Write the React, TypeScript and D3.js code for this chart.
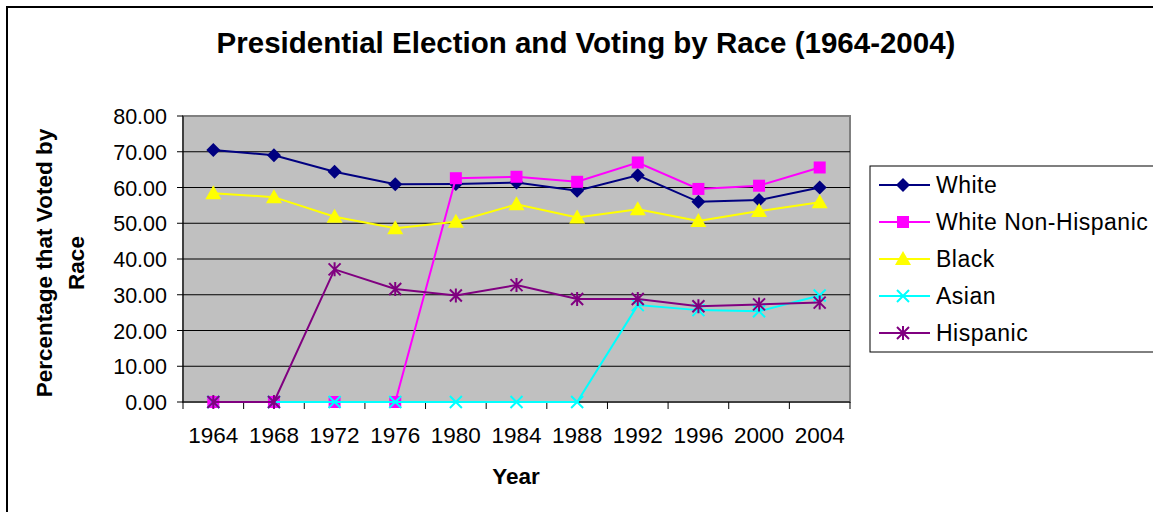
import React from "react";
import * as d3 from "d3";

const years = ["1964", "1968", "1972", "1976", "1980", "1984", "1988", "1992", "1996", "2000", "2004"];
const white = [70.5, 69.0, 64.4, 60.9, 61.0, 61.4, 59.1, 63.4, 56.0, 56.5, 60.0];
const whiteNonHispanic = [0, 0, 0, 0, 62.6, 63.0, 61.6, 67.0, 59.6, 60.5, 65.6];
const black = [58.4, 57.3, 51.8, 48.6, 50.4, 55.3, 51.6, 53.9, 50.6, 53.4, 55.9];
const asian = [0, 0, 0, 0, 0, 0, 0, 27.1, 25.7, 25.4, 29.8];
const hispanic = [0, 0, 37.1, 31.6, 29.8, 32.7, 28.8, 28.8, 26.8, 27.3, 27.8];
const yTicks = [0, 10, 20, 30, 40, 50, 60, 70, 80];

const series = [
  { name: "White", values: white, color: "#000080", marker: "diamond" },
  { name: "White Non-Hispanic", values: whiteNonHispanic, color: "#FF00FF", marker: "square" },
  { name: "Black", values: black, color: "#FFFF00", marker: "triangle" },
  { name: "Asian", values: asian, color: "#00FFFF", marker: "x" },
  { name: "Hispanic", values: hispanic, color: "#800080", marker: "star" },
];

const W = 1153, H = 512;
const plot = { left: 183, right: 850, top: 116, bottom: 402 };
const FONT = "Liberation Sans, Arial, sans-serif";

function Marker({ type, x, y, color }: { type: string; x: number; y: number; color: string }) {
  if (type === "diamond") {
    const s = 7;
    return <path d={`M${x},${y - s}L${x + s},${y}L${x},${y + s}L${x - s},${y}Z`} fill={color} />;
  }
  if (type === "square") {
    const s = 6;
    return <rect x={x - s} y={y - s} width={2 * s} height={2 * s} fill={color} />;
  }
  if (type === "triangle") {
    const s = 7;
    return <path d={`M${x},${y - s - 1}L${x + s + 1},${y + s - 1}L${x - s - 1},${y + s - 1}Z`} fill={color} />;
  }
  if (type === "x") {
    const s = 6;
    return (
      <path d={`M${x - s},${y - s}L${x + s},${y + s}M${x - s},${y + s}L${x + s},${y - s}`} stroke={color} strokeWidth={2} />
    );
  }
  const s = 6;
  return (
    <path
      d={`M${x - s},${y - s}L${x + s},${y + s}M${x - s},${y + s}L${x + s},${y - s}M${x},${y - s - 1}L${x},${y + s + 1}`}
      stroke={color}
      strokeWidth={2}
    />
  );
}

export default function App() {
  const x = d3.scaleBand<string>().domain(years).range([plot.left, plot.right]);
  const y = d3.scaleLinear().domain([0, 80]).range([plot.bottom, plot.top]);
  const cx = (yr: string) => (x(yr) as number) + x.bandwidth() / 2;
  const line = d3
    .line<number>()
    .x((_, i) => cx(years[i]))
    .y((d) => y(d));

  const boundaries = years.map((yr) => x(yr) as number).concat([plot.right]);

  return (
    <svg width={W} height={H} style={{ position: "absolute", left: 0, top: 0 }} fontFamily={FONT}>
      <rect x={0} y={0} width={W} height={H} fill="#fff" />
      <rect x={7} y={7} width={W + 10} height={H + 10} fill="#fff" stroke="#000" strokeWidth={2} />
      <text x={586} y={53} textAnchor="middle" fontSize={29.5} fontWeight="bold">
        Presidential Election and Voting by Race (1964-2004)
      </text>

      <rect
        x={plot.left}
        y={plot.top}
        width={plot.right - plot.left}
        height={plot.bottom - plot.top}
        fill="#C0C0C0"
        stroke="#808080"
        strokeWidth={2}
      />
      {yTicks.map((t) => (
        <g key={t}>
          {t > 0 && t < 80 && (
            <line x1={plot.left} x2={plot.right} y1={y(t)} y2={y(t)} stroke="#000" strokeWidth={1} />
          )}
          <line x1={plot.left - 6} x2={plot.left} y1={y(t)} y2={y(t)} stroke="#000" strokeWidth={1} />
          <text x={plot.left - 16} y={y(t) + 8} textAnchor="end" fontSize={21.5}>
            {t.toFixed(2)}
          </text>
        </g>
      ))}
      <line x1={plot.left} x2={plot.left} y1={plot.top} y2={plot.bottom} stroke="#000" strokeWidth={1} />
      <line x1={plot.left} x2={plot.right} y1={plot.bottom} y2={plot.bottom} stroke="#000" strokeWidth={1} />
      {boundaries.map((b, i) => (
        <line key={i} x1={b} x2={b} y1={plot.bottom} y2={plot.bottom + 7} stroke="#000" strokeWidth={1} />
      ))}
      {years.map((yr) => (
        <text key={yr} x={cx(yr)} y={443} textAnchor="middle" fontSize={22.5}>
          {yr}
        </text>
      ))}
      <text x={516} y={484} textAnchor="middle" fontSize={22.5} fontWeight="bold">
        Year
      </text>
      <g transform="translate(0,263) rotate(-90)">
        <text x={0} y={52} textAnchor="middle" fontSize={22.5} fontWeight="bold">
          Percentage that Voted by
        </text>
        <text x={0} y={84} textAnchor="middle" fontSize={22.5} fontWeight="bold">
          Race
        </text>
      </g>

      {series.map((s) => (
        <g key={s.name}>
          <path d={line(s.values) || ""} fill="none" stroke={s.color} strokeWidth={2} />
          {s.values.map((v, i) => (
            <Marker key={i} type={s.marker} x={cx(years[i])} y={y(v)} color={s.color} />
          ))}
        </g>
      ))}

      <rect x={870} y={166} width={W} height={186} fill="#fff" stroke="#000" strokeWidth={1} />
      {series.map((s, i) => {
        const ly = 185 + i * 37;
        return (
          <g key={s.name}>
            <line x1={879} x2={930} y1={ly} y2={ly} stroke={s.color} strokeWidth={2} />
            <Marker type={s.marker} x={903} y={ly} color={s.color} />
            <text x={936} y={ly + 8} fontSize={23} letterSpacing={0.5}>
              {s.name}
            </text>
          </g>
        );
      })}
    </svg>
  );
}
